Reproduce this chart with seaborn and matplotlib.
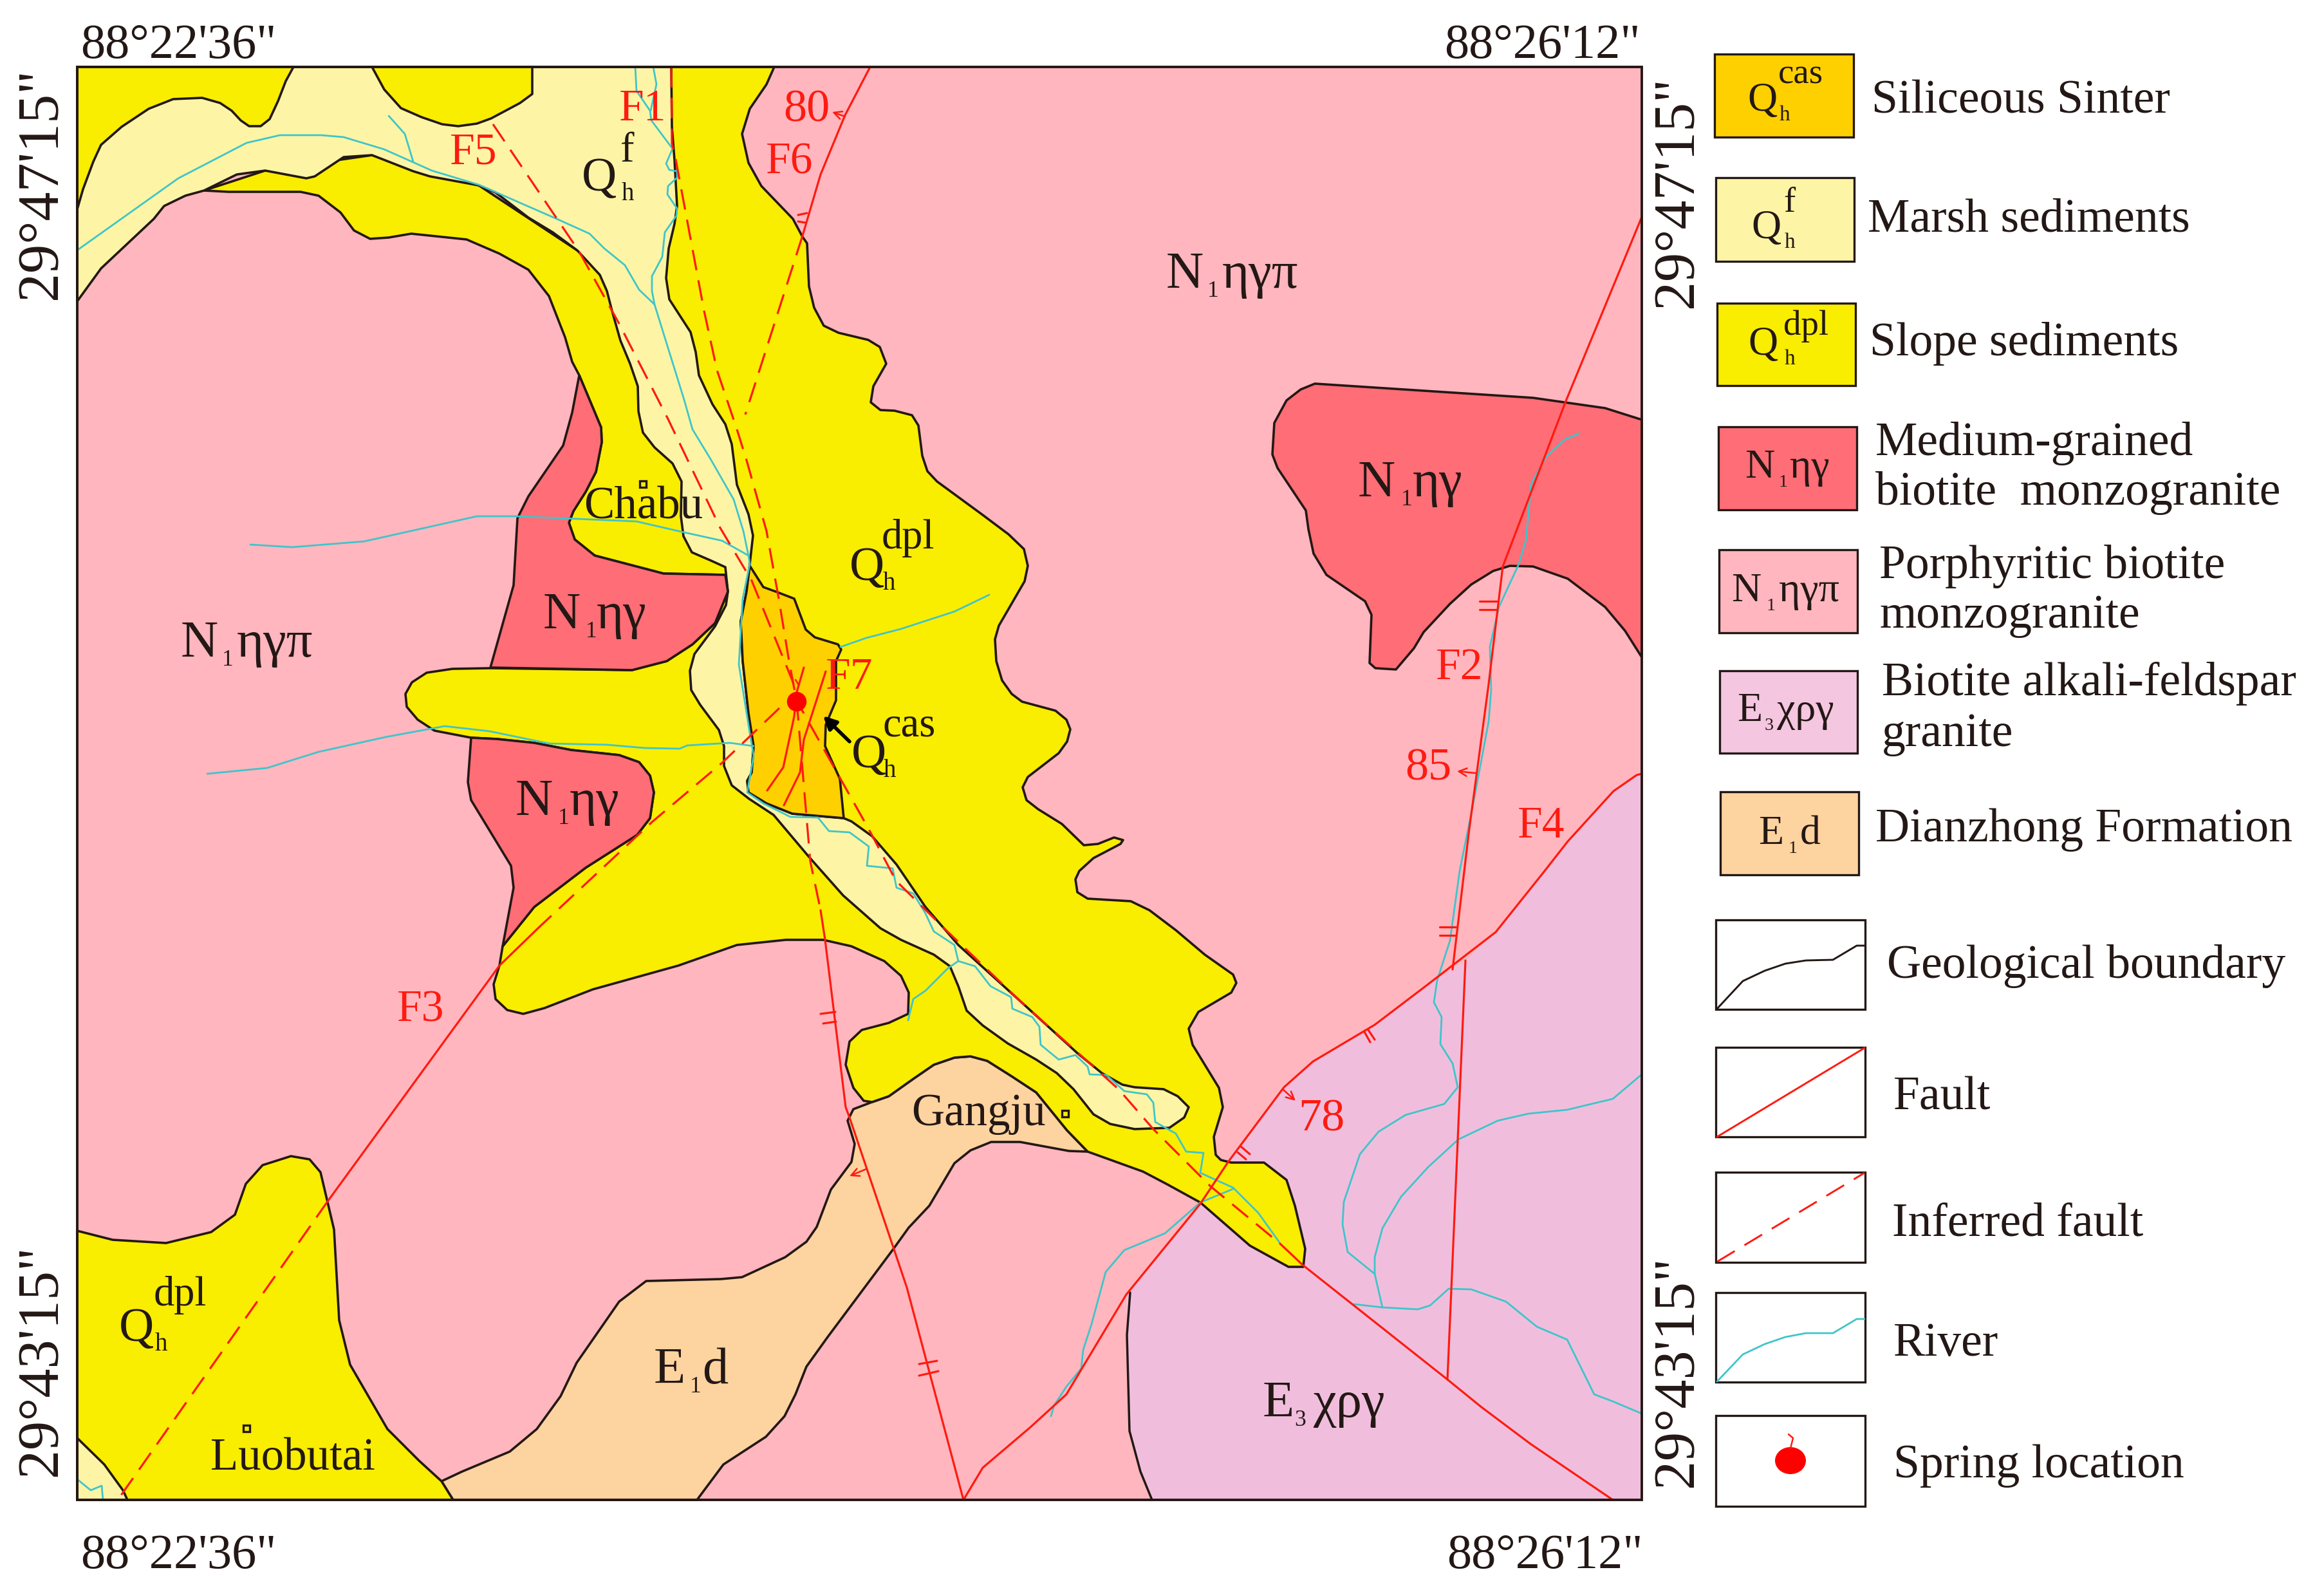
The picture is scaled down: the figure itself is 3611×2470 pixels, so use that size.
import pandas as pd
import matplotlib.pyplot as plt
from matplotlib.patches import Ellipse, Rectangle
import seaborn as sns

map_box = (120, 104, 2551, 2330)

purple_area = [(2551, 1202), (2543, 1204), (2507, 1229), (2436, 1307), (2400, 1353), (2324, 1448), (2277, 1492),
               (2215, 1532), (2136, 1592), (2040, 1649), (1995, 1689), (1909, 1804), (1865, 1870), (1750, 2011),
               (1751, 2074), (1755, 2223), (1772, 2286), (1790, 2330), (2551, 2330)]
purple_edge = [(1756, 2008), (1751, 2074), (1755, 2223), (1772, 2286), (1790, 2330)]

orange_area = [(1355, 1712), (1326, 1723), (1317, 1741), (1328, 1777), (1323, 1805), (1291, 1848), (1269, 1906),
               (1253, 1929), (1220, 1953), (1153, 1984), (1120, 1987), (1004, 1990), (962, 2022), (896, 2117),
               (871, 2169), (834, 2220), (792, 2255), (718, 2286), (686, 2301), (704, 2330), (1083, 2330),
               (1124, 2275), (1190, 2232), (1219, 2200), (1236, 2166), (1253, 2123), (1286, 2077), (1389, 1939),
               (1412, 1907), (1444, 1873), (1483, 1807), (1508, 1787), (1540, 1774), (1585, 1774), (1661, 1788),
               (1690, 1789), (1658, 1756), (1610, 1697), (1572, 1672), (1534, 1648), (1508, 1641), (1483, 1643),
               (1451, 1654), (1419, 1676), (1381, 1703)]

yellow_main = [(1043, 104), (1203, 104), (1191, 131), (1165, 169), (1153, 208), (1163, 253), (1183, 289), (1232, 340),
               (1247, 368), (1254, 378), (1257, 445), (1265, 478), (1280, 506), (1303, 517), (1349, 528), (1367, 539),
               (1377, 565), (1357, 600), (1353, 625), (1368, 637), (1390, 638), (1417, 645), (1427, 661), (1433, 708),
               (1441, 732), (1456, 748), (1527, 800), (1567, 830), (1591, 853), (1597, 879), (1592, 903), (1552, 972),
               (1546, 993), (1548, 1027), (1557, 1057), (1572, 1078), (1588, 1090), (1640, 1104), (1657, 1118),
               (1663, 1133), (1658, 1152), (1645, 1170), (1597, 1207), (1589, 1223), (1595, 1243), (1613, 1257),
               (1650, 1280), (1684, 1313), (1706, 1311), (1731, 1301), (1745, 1305), (1741, 1311), (1699, 1333),
               (1677, 1353), (1671, 1366), (1674, 1386), (1690, 1396), (1757, 1400), (1786, 1414), (1827, 1445),
               (1872, 1483), (1916, 1514), (1921, 1527), (1913, 1542), (1862, 1572), (1847, 1598), (1853, 1623),
               (1894, 1690), (1900, 1720), (1886, 1766), (1889, 1794), (1897, 1802), (1913, 1806), (1964, 1806),
               (1999, 1833), (2012, 1873), (2028, 1940), (2025, 1968), (2002, 1968), (1942, 1935), (1865, 1868),
               (1814, 1840), (1776, 1820), (1690, 1789), (1658, 1756), (1610, 1697), (1572, 1672), (1534, 1648),
               (1508, 1641), (1483, 1643), (1451, 1654), (1419, 1676), (1381, 1703), (1355, 1712), (1342, 1710),
               (1326, 1690), (1314, 1654), (1320, 1618), (1339, 1600), (1381, 1589), (1411, 1575), (1412, 1542),
               (1400, 1516), (1374, 1493), (1323, 1470), (1279, 1460), (1221, 1460), (1145, 1468), (1054, 1500),
               (921, 1537), (846, 1566), (813, 1575), (788, 1569), (770, 1552), (767, 1529), (776, 1500), (781, 1470),
               (830, 1409), (910, 1348), (990, 1297), (1010, 1271), (1016, 1231), (1010, 1205), (993, 1184),
               (962, 1173), (887, 1165), (830, 1154), (772, 1148), (732, 1146), (675, 1135), (649, 1118), (632, 1098),
               (630, 1078), (640, 1060), (663, 1045), (703, 1039), (761, 1038), (982, 1041), (1036, 1027), (1076, 1001),
               (1111, 968), (1131, 919), (1127, 893), (1031, 891), (924, 863), (893, 838), (884, 812), (891, 794),
               (910, 764), (926, 733), (935, 687), (934, 664), (916, 621), (900, 583), (889, 562), (878, 524),
               (853, 460), (821, 419), (776, 394), (725, 372), (639, 363), (604, 369), (575, 371), (550, 358),
               (529, 330), (495, 304), (467, 298), (355, 298), (317, 296), (412, 265), (578, 241), (744, 288),
               (897, 389)]

yellow_top_left = [(120, 104), (456, 104), (444, 126), (432, 157), (419, 185), (405, 196), (387, 196), (374, 187),
                   (360, 172), (342, 160), (314, 152), (269, 154), (231, 169), (189, 197), (157, 225), (145, 251),
                   (129, 294), (120, 325)]
yellow_top_mid = [(578, 104), (597, 139), (623, 168), (655, 182), (687, 193), (712, 196), (741, 192), (763, 184),
                  (808, 160), (827, 146), (827, 104)]
yellow_bottom_left = [(120, 1912), (175, 1926), (258, 1931), (328, 1914), (365, 1887), (382, 1839), (408, 1810),
                      (452, 1796), (481, 1801), (498, 1821), (519, 1910), (527, 2051), (544, 2120), (602, 2220),
                      (651, 2269), (686, 2301), (704, 2330), (120, 2330)]

red_upper = [(900, 583), (889, 641), (875, 692), (821, 771), (804, 805), (798, 909), (762, 1037), (982, 1041),
             (1036, 1027), (1076, 1001), (1111, 968), (1131, 919), (1127, 893), (1031, 891), (924, 863), (893, 838),
             (884, 812), (891, 794), (910, 764), (926, 733), (935, 687), (934, 664), (916, 621)]
red_lower = [(732, 1146), (727, 1215), (732, 1243), (794, 1345), (798, 1379), (781, 1470), (830, 1409), (910, 1348),
             (990, 1297), (1010, 1271), (1016, 1231), (1010, 1205), (993, 1184), (962, 1173), (887, 1165), (830, 1154),
             (772, 1148)]
red_east = [(2043, 596), (2382, 618), (2494, 634), (2551, 652), (2551, 1021), (2525, 980), (2494, 943), (2436, 899),
            (2382, 880), (2346, 879), (2320, 887), (2286, 908), (2253, 938), (2212, 982), (2197, 1007), (2169, 1040),
            (2137, 1038), (2128, 1030), (2131, 955), (2121, 934), (2061, 893), (2041, 860), (2033, 822), (2029, 793),
            (1985, 727), (1977, 706), (1980, 657), (1999, 622), (2021, 605)]

marsh_main = [(120, 104), (1043, 104), (1044, 197), (1048, 248), (1052, 320), (1048, 348), (1039, 386), (1035, 432),
              (1040, 465), (1073, 516), (1081, 547), (1086, 583), (1107, 628), (1127, 659), (1137, 690), (1145, 753),
              (1163, 799), (1170, 832), (1165, 876), (1160, 919), (1151, 965), (1154, 1027), (1163, 1108), (1171, 1159),
              (1168, 1200), (1161, 1213), (1163, 1231), (1191, 1248), (1231, 1264), (1311, 1271), (1323, 1276),
              (1355, 1299), (1393, 1343), (1438, 1409), (1489, 1468), (1585, 1555), (1674, 1636), (1712, 1667),
              (1744, 1685), (1763, 1689), (1808, 1692), (1830, 1703), (1847, 1720), (1840, 1736), (1817, 1752),
              (1763, 1754), (1725, 1746), (1699, 1731), (1668, 1692), (1642, 1667), (1610, 1646), (1566, 1621),
              (1527, 1593), (1502, 1570), (1489, 1532), (1476, 1501), (1451, 1483), (1400, 1460), (1368, 1442),
              (1310, 1391), (1256, 1330), (1202, 1266), (1164, 1241), (1137, 1220), (1125, 1190), (1125, 1159),
              (1117, 1134), (1088, 1095), (1074, 1072), (1072, 1042), (1079, 1016), (1111, 973), (1128, 940),
              (1131, 919), (1127, 881), (1105, 871), (1075, 858), (1062, 833), (1058, 802), (1059, 748), (1045, 720),
              (1017, 695), (999, 672), (992, 639), (991, 600), (979, 565), (964, 529), (951, 483), (943, 452),
              (932, 427), (897, 389), (859, 361), (821, 338), (770, 299), (744, 288), (668, 274), (642, 266),
              (578, 241), (534, 244), (489, 274), (476, 277), (412, 265), (368, 271), (317, 296), (288, 304),
              (255, 320), (239, 340), (157, 417), (120, 468)]
marsh_corner = [(120, 2234), (162, 2275), (191, 2315), (198, 2330), (120, 2330)]

sinter_area = [(1165, 879), (1186, 912), (1208, 920), (1234, 930), (1252, 978), (1266, 990), (1302, 1001), (1307, 1009),
               (1299, 1027), (1299, 1088), (1283, 1126), (1282, 1159), (1305, 1210), (1311, 1271), (1231, 1264),
               (1191, 1248), (1163, 1231), (1161, 1213), (1168, 1200), (1171, 1159), (1163, 1108), (1154, 1027),
               (1151, 965), (1160, 919)]

rivers = [
    [(121, 388), (277, 277), (383, 222), (435, 210), (499, 210), (534, 213), (597, 232), (671, 265), (744, 287),
     (865, 340), (916, 363), (939, 386), (971, 412), (993, 450), (1017, 473), (1063, 621), (1076, 667), (1104, 713),
     (1140, 776), (1155, 825), (1163, 863), (1165, 876), (1154, 930), (1148, 1032), (1165, 1139), (1171, 1174),
     (1161, 1231), (1186, 1248), (1228, 1269), (1271, 1270), (1288, 1291), (1320, 1293), (1350, 1315), (1347, 1345),
     (1387, 1349), (1393, 1379), (1419, 1388), (1438, 1419), (1451, 1447), (1483, 1468), (1489, 1493), (1515, 1501),
     (1539, 1532), (1571, 1549), (1573, 1567), (1604, 1580), (1615, 1595), (1617, 1623), (1645, 1646), (1671, 1639),
     (1690, 1657), (1693, 1669), (1719, 1670), (1747, 1695), (1782, 1700), (1792, 1713), (1795, 1743), (1827, 1761),
     (1843, 1789), (1870, 1791), (1865, 1822), (1916, 1845), (1955, 1884), (1988, 1930)],
    [(1489, 1493), (1473, 1504), (1438, 1539), (1419, 1552), (1411, 1585)],
    [(1916, 1847), (1865, 1868), (1810, 1916), (1747, 1942), (1718, 1976), (1696, 2057), (1683, 2097), (1680, 2126),
     (1657, 2154), (1638, 2183), (1633, 2200)],
    [(604, 180), (629, 208), (642, 251)],
    [(987, 104), (989, 141), (1010, 172), (1012, 187), (1045, 231), (1035, 254), (1040, 264), (1052, 266), (1052, 276),
     (1038, 289), (1037, 302), (1052, 324), (1051, 335), (1033, 361), (1029, 399), (1013, 429), (1013, 452), (1017, 473)],
    [(1015, 104), (1020, 131), (1011, 172)],
    [(389, 846), (454, 850), (566, 841), (741, 802), (802, 802), (989, 810), (1063, 827), (1122, 840), (1163, 863)],
    [(322, 1202), (415, 1193), (495, 1168), (599, 1145), (691, 1128), (761, 1136), (853, 1155), (944, 1157),
     (1002, 1162), (1056, 1163), (1068, 1158), (1134, 1154), (1171, 1159)],
    [(1306, 1005), (1346, 991), (1400, 977), (1483, 950), (1537, 924)],
    [(2454, 673), (2431, 683), (2402, 710), (2379, 752), (2371, 839), (2360, 876), (2329, 943), (2315, 1005),
     (2317, 1071), (2313, 1121), (2288, 1254), (2268, 1353), (2253, 1461), (2233, 1523), (2228, 1557), (2240, 1580),
     (2238, 1622), (2257, 1652), (2265, 1689), (2244, 1715), (2184, 1732), (2142, 1758), (2113, 1793), (2088, 1867),
     (2086, 1902), (2094, 1945), (2136, 1979)],
    [(2551, 1669), (2506, 1707), (2435, 1724), (2375, 1730), (2327, 1741), (2266, 1770), (2219, 1813), (2177, 1859),
     (2148, 1908), (2136, 1953), (2136, 1979), (2148, 2031)],
    [(2104, 2026), (2148, 2031), (2203, 2034), (2222, 2028), (2251, 2002), (2286, 2003), (2340, 2022), (2388, 2061),
     (2435, 2081), (2477, 2166), (2506, 2177), (2551, 2196)],
    [(120, 2298), (141, 2315), (158, 2308), (160, 2330)],
]

solid_faults = [
    [(1275, 1414), (1282, 1460), (1314, 1720), (1320, 1736), (1409, 2000), (1497, 2330)],
    [(1352, 104), (1313, 179), (1275, 271), (1247, 366)],
    [(838, 1440), (776, 1500), (510, 1865)],
    [(2551, 337), (2433, 623), (2335, 880), (2313, 1063), (2282, 1295), (2257, 1506)],
    [(2277, 1492), (2249, 2143)],
    [(2551, 1202), (2543, 1204), (2507, 1229), (2436, 1307), (2400, 1353), (2324, 1448), (2215, 1532), (2136, 1592),
     (2040, 1649), (1995, 1689), (1909, 1804), (1865, 1870), (1750, 2011), (1657, 2166), (1600, 2218), (1527, 2280),
     (1497, 2330)],
    [(1989, 1932), (2024, 1965), (2249, 2143), (2302, 2186), (2378, 2243), (2506, 2330)],
    [(1249, 1037), (1238, 1075), (1234, 1113), (1217, 1192), (1192, 1228)],
    [(1283, 1043), (1249, 1149), (1243, 1200), (1218, 1251)],
    [(1240, 334), (1254, 331)], [(1240, 344), (1252, 346)],
    [(2299, 934), (2328, 934)], [(2299, 947), (2326, 947)],
    [(2237, 1440), (2262, 1440)], [(2237, 1453), (2262, 1453)],
    [(2120, 1603), (2129, 1619)], [(2126, 1600), (2136, 1615)],
    [(1923, 1790), (1936, 1801)], [(1928, 1781), (1942, 1793)],
    [(1275, 1575), (1298, 1572)], [(1279, 1590), (1299, 1587)],
    [(1428, 2119), (1456, 2114)], [(1428, 2137), (1458, 2130)],
]
inferred_faults = [
    [(1043, 104), (1044, 223), (1050, 248), (1073, 371), (1094, 483), (1114, 575), (1145, 667), (1160, 715),
     (1191, 825), (1210, 930), (1226, 1027), (1238, 1090), (1246, 1185), (1259, 1338), (1275, 1414)],
    [(766, 193), (900, 391), (961, 501), (1038, 651), (1119, 820), (1168, 902), (1231, 1057), (1246, 1103),
     (1306, 1210), (1352, 1292), (1392, 1368), (1470, 1445), (1585, 1555), (1738, 1692), (1792, 1754), (1881, 1843),
     (1989, 1932)],
    [(1247, 366), (1158, 644)],
    [(1211, 1100), (1122, 1185), (1013, 1277), (838, 1440)],
    [(510, 1865), (183, 2330)],
]
dip_arrows = [((1313, 181), (1293, 174)), ((2293, 1201), (2264, 1198)), ((1993, 1692), (2013, 1710)),
              ((1346, 1816), (1320, 1827))]

fault_names = ['F1', 'F2', 'F3', 'F4', 'F5', 'F6', 'F7']
dip_values = ['80', '85', '78']
places = ['Chabu', 'Gangju', 'Luobutai']
lon_labels = ['88°22\'36"', '88°26\'12"']
lat_labels = ['29°47\'15"', '29°43\'15"']
legend_names = ['Siliceous Sinter', 'Marsh sediments', 'Slope sediments', 'Medium-grained', 'biotite  monzogranite',
                'Porphyritic biotite', 'monzogranite', 'Biotite alkali-feldspar', 'granite', 'Dianzhong Formation',
                'Geological boundary', 'Fault', 'Inferred fault', 'River', 'Spring location']

key_boundary = [(2668, 1567), (2708, 1524), (2742, 1508), (2774, 1497), (2806, 1492), (2848, 1491), (2885, 1469), (2897, 1469)]
key_fault = [(2668, 1766), (2897, 1628)]
key_inferred = [(2668, 1960), (2897, 1822)]
key_river = [(2668, 2146), (2708, 2104), (2742, 2088), (2774, 2077), (2806, 2071), (2848, 2071), (2885, 2049), (2897, 2049)]
key_stem = [(2779, 2228), (2786, 2234), (2782, 2250)]

# Colors
YELLOW = '#f9ed00'
MARSH = '#fdf5a5'
PINK = '#ffb6be'
RED = '#ff6d76'
PURPLE = '#f0bedc'
PURPLE_KEY = '#f5c6e0'
ORANGE = '#fdd3a0'
SINTER = '#ffd000'
RIVER = '#3ec5cb'
FAULT = '#ff1a10'
INK = '#231815'

sns.set_theme(style="white")
plt.rcParams['font.family'] = ['Liberation Serif', 'DejaVu Serif']

fig = plt.figure(figsize=(36.11, 24.70), dpi=100)
ax = fig.add_axes([0, 0, 1, 1])


def region(xy, color, edge=True):
    xs, ys = zip(*xy)
    ax.fill(xs, ys, facecolor=color, edgecolor=INK if edge else 'none', linewidth=2.6, joinstyle='round')


def line(xy, color, lw, ls='-'):
    df = pd.DataFrame(xy, columns=['x', 'y'])
    sns.lineplot(data=df, x='x', y='y', sort=False, estimator=None, color=color,
                 linewidth=lw, linestyle=ls, ax=ax, legend=False)


def label(x, y, s, size=53, color=INK, **kw):
    ax.text(x, y, s, fontsize=size, color=color, ha=kw.pop('ha', 'left'), va=kw.pop('va', 'baseline'), **kw)


def q_label(x, y, sup, sup_dx, sup_dy=-49, size=54):
    # Q with a superscript and the small h under it
    label(x, y, 'Q', size=size)
    label(x + sup_dx, y + sup_dy, sup, size=size * 0.86)
    label(x + sup_dx + 2, y + 15, 'h', size=size * 0.52)


def sub_label(x, y, head, sub, tail, sub_dx, tail_dx, size=58):
    label(x, y, head, size=size)
    label(x + sub_dx, y + 14, sub, size=size * 0.44)
    label(x + tail_dx, y, tail, size=size)


# Geological units, back to front
x0, y0, x1, y1 = map_box
ax.add_patch(Rectangle((x0, y0), x1 - x0, y1 - y0, facecolor=PINK, edgecolor='none'))
region(purple_area, PURPLE, edge=False)
region(orange_area, ORANGE)
region(yellow_main, YELLOW)
region(marsh_main, MARSH)
region(yellow_top_left, YELLOW)
region(yellow_top_mid, YELLOW)
region(yellow_bottom_left, YELLOW)
region(marsh_corner, MARSH)
region(red_upper, RED)
region(red_lower, RED)
region(red_east, RED)
region(sinter_area, SINTER)
line(purple_edge, INK, 2.5)

for river in rivers:
    line(river, RIVER, 2.0)
for fault in solid_faults:
    line(fault, FAULT, 2.3)
for fault in inferred_faults:
    line(fault, FAULT, 2.3, ls=(0, (10, 5)))
for start, end in dip_arrows:
    ax.annotate('', xy=end, xytext=start, arrowprops=dict(arrowstyle='->', color=FAULT, lw=1.8, mutation_scale=22,
                                                          shrinkA=0, shrinkB=0))
ax.annotate('', xy=(1279, 1112), xytext=(1320, 1152),
            arrowprops=dict(arrowstyle='-|>', color='black', lw=4, mutation_scale=30, shrinkA=0, shrinkB=0))

sns.scatterplot(x=[1238], y=[1090], s=480, color='#ff0000', edgecolor='none', ax=ax, legend=False, zorder=4)
line([(1238, 1076), (1241, 1064), (1236, 1056)], FAULT, 1.8)

# Map frame and corner coordinates
ax.add_patch(Rectangle((x0, y0), x1 - x0, y1 - y0, facecolor='none', edgecolor=INK, linewidth=2.8, zorder=5))
label(125, 90, lon_labels[0], size=55)
label(2244, 90, lon_labels[1], size=55)
label(125, 2436, lon_labels[0], size=55)
label(2248, 2436, lon_labels[1], size=55)
label(106, 285, lat_labels[0], size=65, rotation=90, ha='right', va='center')
label(106, 2113, lat_labels[1], size=65, rotation=90, ha='right', va='center')
label(2648, 298, lat_labels[0], size=65, rotation=90, ha='right', va='center')
label(2648, 2130, lat_labels[1], size=65, rotation=90, ha='right', va='center')

# Fault names and dip values
for name, x, y in zip(fault_names, [999, 2268, 654, 2395, 736, 1227, 1320], [170, 1038, 1570, 1284, 238, 253, 1053]):
    label(x, y, name, size=50, color=FAULT, ha='center', va='center')
for value, x, y in zip(dip_values, [1253, 2219, 2053], [171, 1194, 1739]):
    label(x, y, value, size=52, color=FAULT, ha='center', va='center')

# Places with their small squares
for place, x, y, sx, sy in zip(places, [1000, 1520, 455], [805, 1748, 2284], [999, 1655, 383], [752, 1730, 2219]):
    label(x, y, place, size=51, ha='center')
    ax.add_patch(Rectangle((sx - 5, sy - 5), 10, 10, facecolor='none', edgecolor=INK, linewidth=2.4))

# Unit codes on the map
q_label(904, 296, 'f', 60, sup_dy=-45)
q_label(1320, 901, 'dpl', 50)
q_label(1323, 1192, 'cas', 48)
q_label(185, 2083, 'dpl', 54, sup_dy=-55)
sub_label(844, 976, 'N', '1', 'ηγ', 66, 83)
sub_label(801, 1266, 'N', '1', 'ηγ', 66, 84)
sub_label(2110, 771, 'N', '1', 'ηγ', 67, 85)
sub_label(1812, 447, 'N', '1', 'ηγπ', 64, 87)
sub_label(281, 1020, 'N', '1', 'ηγπ', 64, 87)
sub_label(1016, 2149, 'E', '1', 'd', 56, 75)
sub_label(1962, 2201, 'E', '3', 'χργ', 49, 78)

# Legend colour boxes
key_boxes = [(2664, 84, 2880, 213, SINTER), (2666, 276, 2881, 406, MARSH), (2668, 471, 2883, 599, YELLOW),
             (2670, 663, 2885, 792, RED), (2671, 854, 2886, 983, PINK), (2672, 1042, 2886, 1170, PURPLE_KEY),
             (2673, 1230, 2888, 1359, ORANGE)]
for left, top, right, bottom, color in key_boxes:
    ax.add_patch(Rectangle((left, top), right - left, bottom - top, facecolor=color, edgecolor=INK, linewidth=2.4))
for top, bottom in [(1429, 1568), (1627, 1766), (1821, 1961), (2008, 2147), (2199, 2340)]:
    ax.add_patch(Rectangle((2666, top), 232, bottom - top, facecolor='white', edgecolor=INK, linewidth=2.4))

q_label(2715, 172, 'cas', 48, sup_dy=-42, size=46)
q_label(2721, 370, 'f', 50, sup_dy=-41, size=46)
q_label(2716, 551, 'dpl', 55, sup_dy=-31, size=46)
sub_label(2711, 742, 'N', '1', 'ηγ', 53, 70, size=46)
sub_label(2690, 934, 'N', '1', 'ηγπ', 55, 74, size=46)
sub_label(2699, 1120, 'E', '3', 'χργ', 43, 62, size=46)
sub_label(2732, 1311, 'E', '1', 'd', 47, 65, size=46)

line(key_boundary, INK, 2.1)
line(key_fault, FAULT, 2.1)
line(key_inferred, FAULT, 2.1, ls=(0, (11, 6)))
line(key_river, RIVER, 2.0)
ax.add_patch(Ellipse((2782, 2269), 48, 42, facecolor='#ff0000', edgecolor='none'))
line(key_stem, FAULT, 1.8)

legend_x = [2908, 2902, 2905, 2914, 2914, 2920, 2920, 2924, 2924, 2914, 2932, 2942, 2940, 2942, 2942]
legend_y = [175, 359, 552, 707, 784, 898, 975, 1080, 1159, 1307, 1519, 1723, 1920, 2106, 2295]
for name, x, y in zip(legend_names, legend_x, legend_y):
    label(x, y, name, size=53)

ax.set_xlim(0, 3611)
ax.set_ylim(2470, 0)
ax.axis('off')

plt.savefig("out.png", dpi=100)
